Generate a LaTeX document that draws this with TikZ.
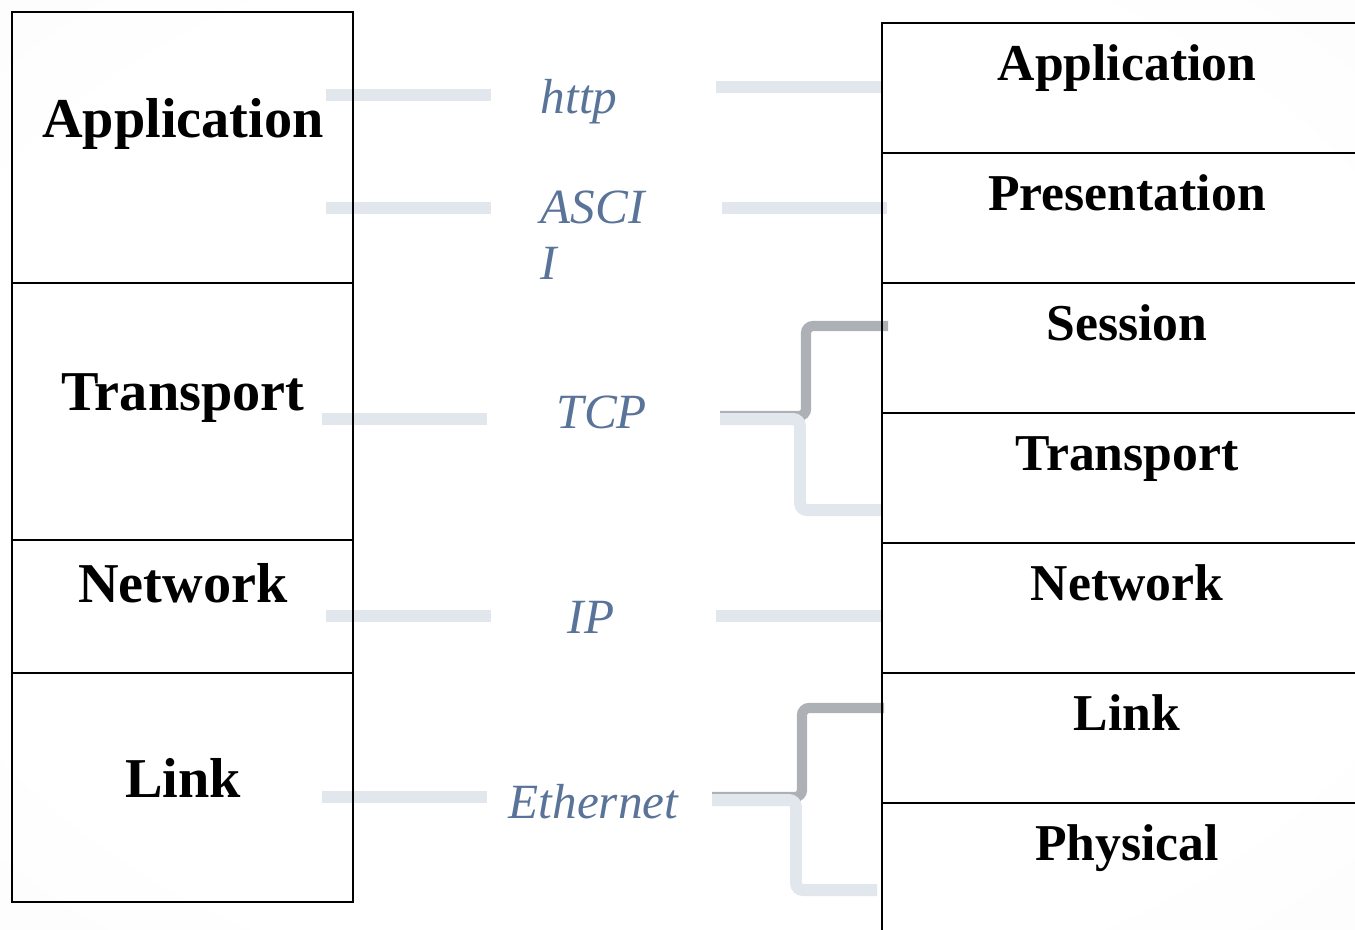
\documentclass[tikz,border=0pt]{standalone}
\usepackage{fontspec}
\setmainfont{Liberation Serif}
\usepackage{tikz}
\usetikzlibrary{positioning}
\usetikzlibrary{calc}
\definecolor{protoblue}{HTML}{5A7399}
\definecolor{linkpale}{HTML}{E2E7EE}
\definecolor{linkgray}{HTML}{ADB0B4}
\pgfdeclareradialshading{pagebg}{\pgfpoint{0bp}{0bp}}{color(0bp)=(white); color(28bp)=(white); color(52bp)=(black!3); color(75bp)=(black!7)}

\begin{document}
\begin{tikzpicture}[x=0.01cm, y=-0.01cm,
		tcpip/.style={anchor=base, font=\bfseries\fontsize{16}{19}\selectfont},
		osi/.style={anchor=base, font=\bfseries\fontsize{14.7}{18}\selectfont},
		proto/.style={anchor=base west, inner sep=0pt, text=protoblue, font=\itshape\fontsize{14}{16}\selectfont},
		pale/.style={linkpale, line width=3.4pt, rounded corners=2pt},
		grayline/.style={linkgray, line width=2.9pt, rounded corners=2pt},
		box/.style={black, line width=0.7pt}]
		\shade[shading=pagebg] (0,0) rectangle (1355,929);
		\useasboundingbox (0,0) rectangle (1355,929);

		% protocols
		\node[proto] (http) at (540,113) {http};
		\node[proto, align=left, anchor=north west] (ascii) at (540,190) {ASCI\\I};
		\node[proto] (tcp) at (556,428) {TCP};
		\node[proto] (ip) at (567,633) {IP};
		\node[proto] (eth) at (508,818) {Ethernet};

		\coordinate (httpA) at (326,95);
		\coordinate (httpB) at (491,95);
		\coordinate (httpC) at (716,87);
		\coordinate (httpD) at (882,87);
		\coordinate (asciiA) at (326,208);
		\coordinate (asciiB) at (491,208);
		\coordinate (asciiC) at (722,208);
		\coordinate (asciiD) at (887,208);
		\coordinate (tcpA) at (322,419);
		\coordinate (tcpB) at (487,419);
		\coordinate (ipA) at (326,616);
		\coordinate (ipB) at (491,616);
		\coordinate (ipC) at (716,616);
		\coordinate (ipD) at (882,616);
		\coordinate (ethA) at (322,797);
		\coordinate (ethB) at (487,797);

		\draw[pale] (httpA) -- (httpB);
		\draw[pale] (httpC) -- (httpD);
		\draw[pale] (asciiA) -- (asciiB);
		\draw[pale] (asciiC) -- (asciiD);
		\draw[pale] (tcpA) -- (tcpB);
		\draw[pale] (ipA) -- (ipB);
		\draw[pale] (ipC) -- (ipD);
		\draw[pale] (ethA) -- (ethB);

		% split links
		\draw[grayline] (720,416) -| (806,326) -- (888,326);
		\draw[pale] (720,419) -| (800,510) -- (882,510);
		\draw[grayline] (712,797) -| (802,708) -- (884,708);
		\draw[pale] (712,800) -| (796,890) -- (877,890);

		% TCP/IP stack
		\draw[box] (12,12) rectangle (353,283);
		\draw[box] (12,283) rectangle (353,540);
		\draw[box] (12,540) rectangle (353,673);
		\draw[box] (12,673) rectangle (353,902);
		\node[tcpip] (lapp) at (183,137) {Application};
		\node[tcpip] (ltrans) at (183,410) {Transport};
		\node[tcpip] (lnet) at (183,602) {Network};
		\node[tcpip] (llink) at (183,797) {Link};

		% OSI stack
		\foreach \y/\name/\lbl in {23/app/Application, 153/pres/Presentation, 283/sess/Session, 413/trans/Transport, 543/net/Network, 673/link/Link, 803/phys/Physical}{
			\draw[box] (882,\y) rectangle (1370,\y+130);
			\node[osi] (r\name) at (1127,\y+57) {\lbl};
		}
	\end{tikzpicture}
\end{document}
